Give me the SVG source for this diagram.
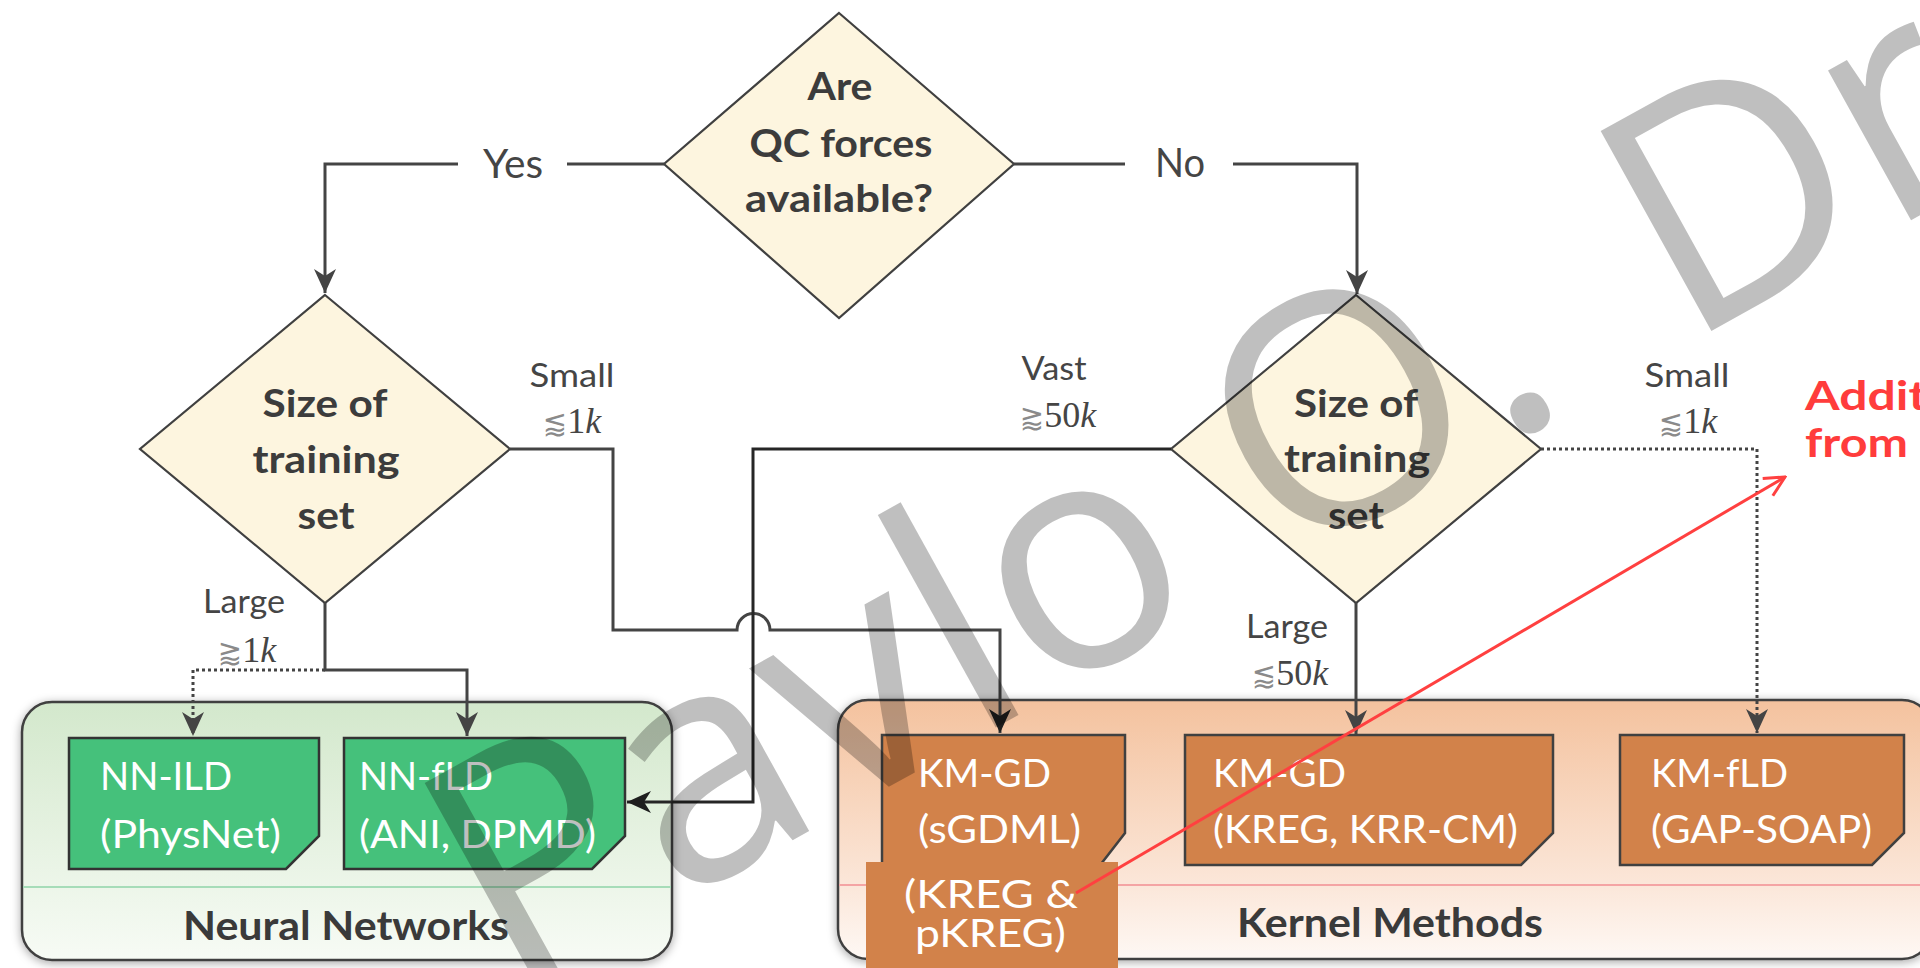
<svg xmlns="http://www.w3.org/2000/svg" width="1920" height="968" viewBox="0 0 1920 968">
  <defs>
    <style>
      .dia { fill: #fdf5df; stroke: #404040; stroke-width: 2.2; }
      .dtx { font-family: Lato, "Open Sans", sans-serif; font-weight: 700; font-size: 38px; fill: #3c3c3c; text-anchor: middle; }
      .lab { font-family: Lato, "Open Sans", sans-serif; font-size: 33px; fill: #454545; text-anchor: middle; }
      .yn { font-family: Lato, "Open Sans", sans-serif; font-size: 41px; fill: #454545; }
      .math { font-family: "Liberation Serif", serif; font-size: 36px; fill: #454545; text-anchor: middle; }
      .sym { font-family: "DejaVu Sans", "Noto Sans", sans-serif; font-size: 29px; fill: #8a8a8a; }
      .it { font-style: italic; }
      .conn { fill: none; stroke: #444; stroke-width: 3; }
      .dark { stroke: #262626; }
      .dot { stroke-dasharray: 3 3; stroke-width: 3; }
      .green { fill: #45c17b; stroke: #333; stroke-width: 2.5; }
      .orange { fill: #d2824a; stroke: #404040; stroke-width: 2.5; }
      .btx { font-family: Lato, "Open Sans", sans-serif; font-size: 39px; fill: #ffffff; }
      .grp { font-family: Lato, "Open Sans", sans-serif; font-weight: 700; font-size: 40px; fill: #3a3a3a; text-anchor: middle; }
      .note { font-family: Lato, "Open Sans", sans-serif; font-weight: 700; font-size: 41px; fill: #ff3c3c; }
      .wm { font-family: "Open Sans", sans-serif; font-size: 320px; fill: #000; fill-opacity: 0.25; }
    </style>
    <marker id="arr" viewBox="0 0 24 22" refX="24" refY="11" markerWidth="24" markerHeight="22" markerUnits="userSpaceOnUse" orient="auto">
      <path d="M0,0 L24,11 L0,22 L7,11 Z" fill="#444"/>
    </marker>
    <marker id="arrDark" viewBox="0 0 24 22" refX="24" refY="11" markerWidth="24" markerHeight="22" markerUnits="userSpaceOnUse" orient="auto">
      <path d="M0,0 L24,11 L0,22 L7,11 Z" fill="#1e1e1e"/>
    </marker>
    <marker id="arrRed" viewBox="0 0 24 24" refX="22" refY="12" markerWidth="24" markerHeight="24" markerUnits="userSpaceOnUse" orient="auto">
      <path d="M2,2 L22,12 L2,22" fill="none" stroke="#ff4040" stroke-width="3"/>
    </marker>
    <linearGradient id="gNN" x1="0" y1="0" x2="0" y2="1">
      <stop offset="0" stop-color="#d3e8cc"/>
      <stop offset="1" stop-color="#f7fbf5"/>
    </linearGradient>
    <linearGradient id="gKM" x1="0" y1="0" x2="0" y2="1">
      <stop offset="0" stop-color="#f4c29e"/>
      <stop offset="0.7" stop-color="#fbe6d8"/>
      <stop offset="1" stop-color="#fef8f4"/>
    </linearGradient>
    <filter id="shadow" x="-10%" y="-20%" width="120%" height="140%">
      <feDropShadow dx="0" dy="2" stdDeviation="5" flood-color="#000" flood-opacity="0.35"/>
    </filter>
  </defs>

  <rect width="1920" height="968" fill="#ffffff"/>

  <!-- group containers -->
  <g id="neural-networks">
    <rect x="22" y="702" width="650" height="258" rx="30" fill="url(#gNN)" stroke="#404040" stroke-width="2.5" filter="url(#shadow)"/>
    <line x1="23" y1="887" x2="671" y2="887" stroke="#a6dcb8" stroke-width="2"/>
    <text class="grp" x="346" y="940" textLength="326" lengthAdjust="spacingAndGlyphs">Neural Networks</text>
  </g>
  <g id="kernel-methods">
    <rect x="838" y="700" width="1094" height="259" rx="30" fill="url(#gKM)" stroke="#404040" stroke-width="2.5" filter="url(#shadow)"/>
    <line x1="839" y1="885" x2="1932" y2="885" stroke="#f4a4a4" stroke-width="2"/>
    <text class="grp" x="1390" y="937" textLength="306" lengthAdjust="spacingAndGlyphs">Kernel Methods</text>
  </g>

  <!-- decision nodes -->
  <g id="q-forces">
    <polygon class="dia" points="839,13 1014,164 839,318 664,164"/>
    <text class="dtx" x="840" y="100" textLength="65" lengthAdjust="spacingAndGlyphs">Are</text>
    <text class="dtx" x="841" y="157" textLength="183" lengthAdjust="spacingAndGlyphs">QC forces</text>
    <text class="dtx" x="839" y="212" textLength="188" lengthAdjust="spacingAndGlyphs">available?</text>
  </g>
  <g id="size-left">
    <polygon class="dia" points="325,295 510,449 325,603 140,449"/>
    <text class="dtx" x="325" y="417" textLength="125" lengthAdjust="spacingAndGlyphs">Size of</text>
    <text class="dtx" x="326" y="473" textLength="147" lengthAdjust="spacingAndGlyphs">training</text>
    <text class="dtx" x="326" y="529" textLength="57" lengthAdjust="spacingAndGlyphs">set</text>
  </g>
  <g id="size-right">
    <polygon class="dia" points="1356,295 1541,449 1356,603 1171,449"/>
    <text class="dtx" x="1356" y="417" textLength="124" lengthAdjust="spacingAndGlyphs">Size of</text>
    <text class="dtx" x="1357" y="472" textLength="146" lengthAdjust="spacingAndGlyphs">training</text>
    <text class="dtx" x="1356" y="529" textLength="56" lengthAdjust="spacingAndGlyphs">set</text>
  </g>

  <!-- method nodes -->
  <g id="nn-ild">
    <polygon class="green" points="69,738 319,738 319,836 286,869 69,869"/>
    <text class="btx" x="100" y="790" textLength="132" lengthAdjust="spacingAndGlyphs">NN-ILD</text>
    <text class="btx" x="100" y="848" textLength="181" lengthAdjust="spacingAndGlyphs">(PhysNet)</text>
  </g>
  <g id="nn-fld">
    <polygon class="green" points="344,738 625,738 625,836 592,869 344,869"/>
    <text class="btx" x="359" y="790" textLength="134" lengthAdjust="spacingAndGlyphs">NN-fLD</text>
    <text class="btx" x="359" y="848" textLength="237" lengthAdjust="spacingAndGlyphs">(ANI, DPMD)</text>
  </g>
  <g id="km-gd-sgdml">
    <polygon class="orange" points="882,735 1125,735 1125,833 1101,864 882,864"/>
    <text class="btx" x="918" y="787" textLength="133" lengthAdjust="spacingAndGlyphs">KM-GD</text>
    <text class="btx" x="918" y="843" textLength="163" lengthAdjust="spacingAndGlyphs">(sGDML)</text>
    <rect x="866" y="862" width="252" height="110" fill="#d2824a"/>
    <text class="btx" x="904" y="908" textLength="174" lengthAdjust="spacingAndGlyphs">(KREG &amp;</text>
    <text class="btx" x="915" y="947" textLength="151" lengthAdjust="spacingAndGlyphs">pKREG)</text>
  </g>
  <g id="km-gd-kreg">
    <polygon class="orange" points="1185,735 1553,735 1553,833 1521,865 1185,865"/>
    <text class="btx" x="1213" y="787" textLength="133" lengthAdjust="spacingAndGlyphs">KM-GD</text>
    <text class="btx" x="1213" y="843" textLength="305" lengthAdjust="spacingAndGlyphs">(KREG, KRR-CM)</text>
  </g>
  <g id="km-fld">
    <polygon class="orange" points="1620,735 1904,735 1904,833 1872,865 1620,865"/>
    <text class="btx" x="1651" y="787" textLength="137" lengthAdjust="spacingAndGlyphs">KM-fLD</text>
    <text class="btx" x="1651" y="843" textLength="221" lengthAdjust="spacingAndGlyphs">(GAP-SOAP)</text>
  </g>

  <!-- connectors -->
  <g id="connectors">
    <path class="conn" d="M664,164 H567"/>
    <path class="conn" d="M458,164 H325 V293" marker-end="url(#arr)"/>
    <path class="conn" d="M1014,164 H1125"/>
    <path class="conn" d="M1233,164 H1357 V294" marker-end="url(#arr)"/>
    <path class="conn" d="M510,449 H613 V630 H737 A16.5,16.5 0 0 1 770,630 H1000 V733" marker-end="url(#arrDark)"/>
    <path class="conn" d="M325,603 V670 H467 V736" marker-end="url(#arr)"/>
    <path class="conn dot" d="M325,670 H193 V736" marker-end="url(#arr)"/>
    <path class="conn dark" d="M1171,449 H753 V802 H627" marker-end="url(#arrDark)"/>
    <path class="conn" d="M1356,603 V734" marker-end="url(#arr)"/>
    <path class="conn dot" d="M1541,449 H1757 V733" marker-end="url(#arr)"/>
    <path d="M1076,893 L1785,477" fill="none" stroke="#ff4040" stroke-width="3" marker-end="url(#arrRed)"/>
  </g>

  <!-- branch labels -->
  <g id="labels">
    <text class="yn" x="483" y="178" textLength="60" lengthAdjust="spacingAndGlyphs">Yes</text>
    <text class="yn" x="1155" y="177" textLength="50" lengthAdjust="spacingAndGlyphs">No</text>
    <text class="lab" x="572" y="387" textLength="85" lengthAdjust="spacingAndGlyphs">Small</text>
    <text class="math" x="572" y="433"><tspan class="sym">⪅</tspan>1<tspan class="it">k</tspan></text>
    <text class="lab" x="244" y="613" textLength="82" lengthAdjust="spacingAndGlyphs">Large</text>
    <text class="math" x="247" y="662"><tspan class="sym">⪆</tspan>1<tspan class="it">k</tspan></text>
    <text class="lab" x="1054" y="380" textLength="65" lengthAdjust="spacingAndGlyphs">Vast</text>
    <text class="math" x="1058" y="427"><tspan class="sym">⪆</tspan>50<tspan class="it">k</tspan></text>
    <text class="lab" x="1687" y="387" textLength="85" lengthAdjust="spacingAndGlyphs">Small</text>
    <text class="math" x="1688" y="433"><tspan class="sym">⪅</tspan>1<tspan class="it">k</tspan></text>
    <text class="lab" x="1287" y="638" textLength="82" lengthAdjust="spacingAndGlyphs">Large</text>
    <text class="math" x="1290" y="685"><tspan class="sym">⪅</tspan>50<tspan class="it">k</tspan></text>
    <text class="note" x="1805" y="410" textLength="122" lengthAdjust="spacingAndGlyphs">Addit</text>
    <text class="note" x="1805" y="457" textLength="103" lengthAdjust="spacingAndGlyphs">from</text>
  </g>

  <!-- author watermark -->
  <g id="watermark" transform="translate(1538,427) rotate(-29)">
    <text class="wm" x="42" y="0" text-anchor="end">Pavlo O.</text>
    <text class="wm" x="167" y="0">Dr</text>
  </g>
</svg>
